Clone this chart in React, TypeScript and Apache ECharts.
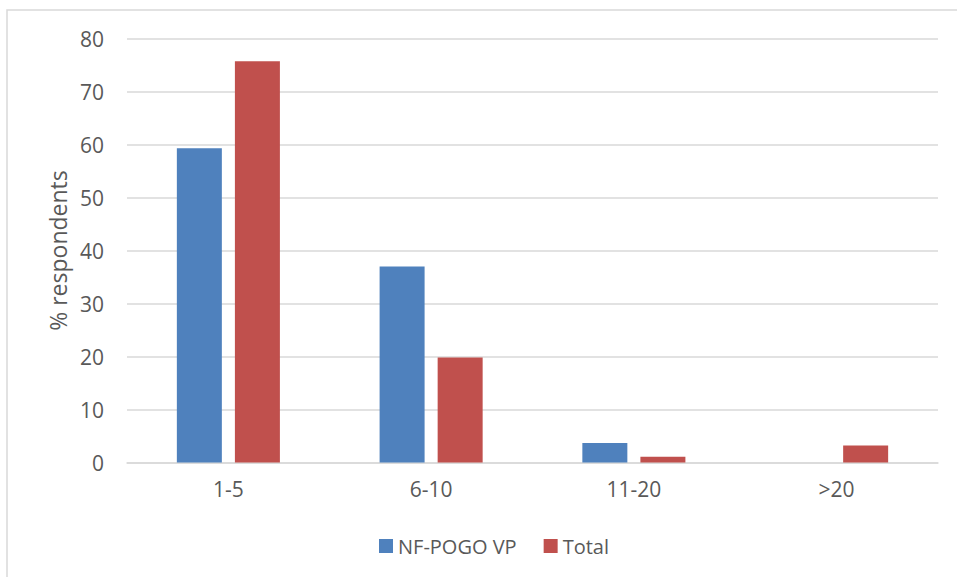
import React, { useEffect, useRef } from "react";
import * as echarts from "echarts";

const categories = ["1-5", "6-10", "11-20", ">20"];
const nfPogoVp = [59.3, 37.0, 3.7, 0];
const total = [75.7, 19.8, 1.1, 3.2];
const yTicks = { min: 0, max: 80, interval: 10 };

const FONT = "'Open Sans', 'Noto Sans', sans-serif";
const TEXT = "#595959";

export default function App() {
  const ref = useRef<HTMLDivElement>(null);

  useEffect(() => {
    if (!ref.current) return;
    const chart = echarts.init(ref.current, null, { renderer: "svg" });
    chart.setOption({
      animation: false,
      backgroundColor: "#ffffff",
      textStyle: { fontFamily: FONT },
      graphic: [
        {
          type: "rect",
          shape: { x: 7, y: 10, width: 970, height: 600 },
          style: { fill: "none", stroke: "#d9d9d9", lineWidth: 1.5 },
          silent: true,
        },
      ],
      grid: { left: 127, right: 19, top: 38.5, bottom: 114.5, containLabel: false },
      legend: {
        data: ["NF-POGO VP", "Total"],
        top: 531,
        left: 374,
        itemWidth: 14,
        itemHeight: 14,
        itemGap: 27,
        icon: "rect",
        textStyle: { fontFamily: FONT, fontSize: 20, color: TEXT },
      },
      xAxis: {
        type: "category",
        data: categories,
        axisLine: { show: true, lineStyle: { color: "#d9d9d9", width: 1.5 } },
        axisTick: { show: false },
        axisLabel: { fontFamily: FONT, fontSize: 21, color: TEXT, margin: 16 },
      },
      yAxis: {
        type: "value",
        min: yTicks.min,
        max: yTicks.max,
        interval: yTicks.interval,
        name: "% respondents",
        nameLocation: "middle",
        nameGap: 57,
        nameTextStyle: { fontFamily: FONT, fontSize: 23, color: TEXT },
        axisLine: { show: false },
        axisTick: { show: false },
        axisLabel: { fontFamily: FONT, fontSize: 21, color: TEXT, margin: 23 },
        splitLine: { lineStyle: { color: "#d9d9d9", width: 1.5 } },
      },
      series: [
        {
          name: "NF-POGO VP",
          type: "bar",
          data: nfPogoVp,
          barWidth: 45,
          barGap: "29%",
          itemStyle: { color: "#4f81bd" },
        },
        {
          name: "Total",
          type: "bar",
          data: total,
          barWidth: 45,
          barGap: "29%",
          itemStyle: { color: "#c0504d" },
        },
      ],
    });
    return () => chart.dispose();
  }, []);

  return (
    <div
      ref={ref}
      style={{ position: "fixed", left: 0, top: 0, width: 957, height: 577 }}
    />
  );
}
